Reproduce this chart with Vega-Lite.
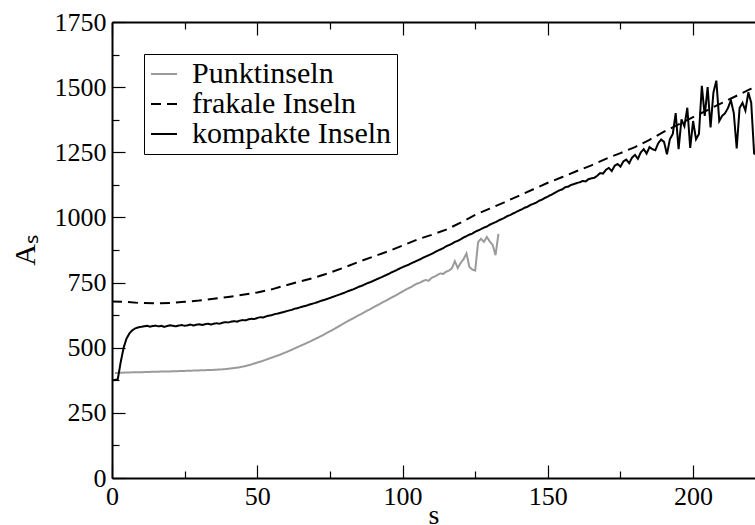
{
  "$schema": "https://vega.github.io/schema/vega-lite/v6.json",
  "width": 643,
  "height": 456,
  "autosize": {"type": "none"},
  "padding": {"left": 112, "top": 22, "right": 0, "bottom": 47},
  "background": "white",
  "config": {
    "view": {"stroke": null},
    "font": "Liberation Serif",
    "axis": {
      "grid": false,
      "domainColor": "black",
      "domainWidth": 2,
      "tickColor": "black",
      "tickWidth": 1.2,
      "labelColor": "black",
      "labelFont": "Liberation Serif",
      "labelFontSize": 26,
      "labelFlush": false,
      "labelOverlap": false,
      "titleFont": "Liberation Serif",
      "titleColor": "black",
      "titleFontWeight": "normal"
    },
    "legend": {
      "orient": "none",
      "legendX": 32,
      "legendY": 32,
      "strokeColor": "black",
      "fillColor": "white",
      "padding": 5,
      "symbolType": "stroke",
      "symbolSize": 676,
      "symbolStrokeWidth": 2,
      "labelFont": "Liberation Serif",
      "labelFontSize": 30,
      "labelColor": "black",
      "labelLimit": 400,
      "labelOffset": 13,
      "rowPadding": -3
    }
  },
  "datasets": {
    "main": [
      {"s":0,"A":677,"k":"frakale Inseln"},{"s":5,"A":676,"k":"frakale Inseln"},{"s":9,"A":672,"k":"frakale Inseln"},{"s":15,"A":670,"k":"frakale Inseln"},{"s":20,"A":672,"k":"frakale Inseln"},{"s":25,"A":676,"k":"frakale Inseln"},{"s":30,"A":681,"k":"frakale Inseln"},{"s":35,"A":688,"k":"frakale Inseln"},{"s":40,"A":695,"k":"frakale Inseln"},{"s":45,"A":703,"k":"frakale Inseln"},{"s":50,"A":712,"k":"frakale Inseln"},{"s":55,"A":724,"k":"frakale Inseln"},{"s":60,"A":740,"k":"frakale Inseln"},{"s":65,"A":755,"k":"frakale Inseln"},{"s":70,"A":770,"k":"frakale Inseln"},{"s":75,"A":788,"k":"frakale Inseln"},{"s":80,"A":808,"k":"frakale Inseln"},{"s":85,"A":830,"k":"frakale Inseln"},{"s":90,"A":850,"k":"frakale Inseln"},{"s":95,"A":870,"k":"frakale Inseln"},{"s":100,"A":892,"k":"frakale Inseln"},{"s":105,"A":915,"k":"frakale Inseln"},{"s":110,"A":933,"k":"frakale Inseln"},{"s":115,"A":953,"k":"frakale Inseln"},{"s":120,"A":980,"k":"frakale Inseln"},{"s":125,"A":1010,"k":"frakale Inseln"},{"s":130,"A":1034,"k":"frakale Inseln"},{"s":135,"A":1058,"k":"frakale Inseln"},{"s":140,"A":1083,"k":"frakale Inseln"},{"s":145,"A":1108,"k":"frakale Inseln"},{"s":150,"A":1133,"k":"frakale Inseln"},{"s":155,"A":1155,"k":"frakale Inseln"},{"s":160,"A":1178,"k":"frakale Inseln"},{"s":165,"A":1200,"k":"frakale Inseln"},{"s":170,"A":1225,"k":"frakale Inseln"},{"s":175,"A":1247,"k":"frakale Inseln"},{"s":180,"A":1270,"k":"frakale Inseln"},{"s":185,"A":1298,"k":"frakale Inseln"},{"s":190,"A":1329,"k":"frakale Inseln"},{"s":195,"A":1357,"k":"frakale Inseln"},{"s":200,"A":1385,"k":"frakale Inseln"},{"s":205,"A":1412,"k":"frakale Inseln"},{"s":210,"A":1440,"k":"frakale Inseln"},{"s":215,"A":1467,"k":"frakale Inseln"},{"s":220,"A":1494,"k":"frakale Inseln"},{"s":223,"A":1510,"k":"frakale Inseln"},

      {"s":1,"A":403,"k":"Punktinseln"},{"s":5,"A":405,"k":"Punktinseln"},{"s":10,"A":406,"k":"Punktinseln"},{"s":15,"A":408,"k":"Punktinseln"},{"s":20,"A":409,"k":"Punktinseln"},{"s":25,"A":411,"k":"Punktinseln"},{"s":30,"A":413,"k":"Punktinseln"},{"s":35,"A":415,"k":"Punktinseln"},{"s":38,"A":417,"k":"Punktinseln"},{"s":40,"A":419,"k":"Punktinseln"},{"s":42,"A":422,"k":"Punktinseln"},{"s":44,"A":425,"k":"Punktinseln"},{"s":46,"A":430,"k":"Punktinseln"},{"s":48,"A":436,"k":"Punktinseln"},{"s":50,"A":443,"k":"Punktinseln"},{"s":52,"A":450,"k":"Punktinseln"},{"s":54,"A":458,"k":"Punktinseln"},{"s":56,"A":466,"k":"Punktinseln"},{"s":58,"A":474,"k":"Punktinseln"},{"s":60,"A":483,"k":"Punktinseln"},{"s":62,"A":493,"k":"Punktinseln"},{"s":64,"A":503,"k":"Punktinseln"},{"s":66,"A":513,"k":"Punktinseln"},{"s":68,"A":523,"k":"Punktinseln"},{"s":70,"A":534,"k":"Punktinseln"},{"s":72,"A":545,"k":"Punktinseln"},{"s":74,"A":557,"k":"Punktinseln"},{"s":76,"A":569,"k":"Punktinseln"},{"s":78,"A":582,"k":"Punktinseln"},{"s":80,"A":595,"k":"Punktinseln"},{"s":82,"A":607,"k":"Punktinseln"},{"s":84,"A":619,"k":"Punktinseln"},{"s":86,"A":631,"k":"Punktinseln"},{"s":88,"A":643,"k":"Punktinseln"},{"s":90,"A":655,"k":"Punktinseln"},{"s":92,"A":667,"k":"Punktinseln"},{"s":94,"A":679,"k":"Punktinseln"},{"s":96,"A":691,"k":"Punktinseln"},{"s":98,"A":703,"k":"Punktinseln"},{"s":100,"A":716,"k":"Punktinseln"},{"s":101,"A":722,"k":"Punktinseln"},{"s":102,"A":728,"k":"Punktinseln"},{"s":103,"A":733,"k":"Punktinseln"},{"s":104,"A":740,"k":"Punktinseln"},{"s":105,"A":746,"k":"Punktinseln"},{"s":106,"A":750,"k":"Punktinseln"},{"s":107,"A":756,"k":"Punktinseln"},{"s":108,"A":760,"k":"Punktinseln"},{"s":109,"A":757,"k":"Punktinseln"},{"s":110,"A":768,"k":"Punktinseln"},{"s":111,"A":773,"k":"Punktinseln"},{"s":112,"A":779,"k":"Punktinseln"},{"s":113,"A":785,"k":"Punktinseln"},{"s":114,"A":783,"k":"Punktinseln"},{"s":115,"A":792,"k":"Punktinseln"},{"s":116,"A":796,"k":"Punktinseln"},{"s":117,"A":805,"k":"Punktinseln"},{"s":118,"A":832,"k":"Punktinseln"},{"s":119,"A":806,"k":"Punktinseln"},{"s":120,"A":825,"k":"Punktinseln"},{"s":121,"A":840,"k":"Punktinseln"},{"s":122,"A":862,"k":"Punktinseln"},{"s":123,"A":810,"k":"Punktinseln"},{"s":124,"A":800,"k":"Punktinseln"},{"s":125,"A":796,"k":"Punktinseln"},{"s":126,"A":905,"k":"Punktinseln"},{"s":127,"A":918,"k":"Punktinseln"},{"s":128,"A":906,"k":"Punktinseln"},{"s":129,"A":925,"k":"Punktinseln"},{"s":130,"A":908,"k":"Punktinseln"},{"s":131,"A":895,"k":"Punktinseln"},{"s":132,"A":855,"k":"Punktinseln"},{"s":133,"A":937,"k":"Punktinseln"},

      {"s":0,"A":375,"k":"kompakte Inseln"},{"s":1,"A":376,"k":"kompakte Inseln"},{"s":2,"A":380,"k":"kompakte Inseln"},{"s":3,"A":445,"k":"kompakte Inseln"},{"s":4,"A":500,"k":"kompakte Inseln"},{"s":5,"A":535,"k":"kompakte Inseln"},{"s":6,"A":555,"k":"kompakte Inseln"},{"s":7,"A":567,"k":"kompakte Inseln"},{"s":8,"A":574,"k":"kompakte Inseln"},{"s":9,"A":578,"k":"kompakte Inseln"},{"s":10,"A":580,"k":"kompakte Inseln"},{"s":11,"A":582,"k":"kompakte Inseln"},{"s":12,"A":584,"k":"kompakte Inseln"},{"s":13,"A":581,"k":"kompakte Inseln"},{"s":14,"A":583,"k":"kompakte Inseln"},{"s":15,"A":585,"k":"kompakte Inseln"},{"s":16,"A":582,"k":"kompakte Inseln"},{"s":17,"A":584,"k":"kompakte Inseln"},{"s":18,"A":580,"k":"kompakte Inseln"},{"s":19,"A":583,"k":"kompakte Inseln"},{"s":20,"A":586,"k":"kompakte Inseln"},{"s":21,"A":584,"k":"kompakte Inseln"},{"s":22,"A":582,"k":"kompakte Inseln"},{"s":23,"A":585,"k":"kompakte Inseln"},{"s":24,"A":587,"k":"kompakte Inseln"},{"s":25,"A":584,"k":"kompakte Inseln"},{"s":26,"A":586,"k":"kompakte Inseln"},{"s":27,"A":589,"k":"kompakte Inseln"},{"s":28,"A":585,"k":"kompakte Inseln"},{"s":29,"A":588,"k":"kompakte Inseln"},{"s":30,"A":590,"k":"kompakte Inseln"},{"s":31,"A":587,"k":"kompakte Inseln"},{"s":32,"A":590,"k":"kompakte Inseln"},{"s":33,"A":592,"k":"kompakte Inseln"},{"s":34,"A":589,"k":"kompakte Inseln"},{"s":35,"A":592,"k":"kompakte Inseln"},{"s":36,"A":594,"k":"kompakte Inseln"},{"s":37,"A":592,"k":"kompakte Inseln"},{"s":38,"A":596,"k":"kompakte Inseln"},{"s":39,"A":598,"k":"kompakte Inseln"},{"s":40,"A":597,"k":"kompakte Inseln"},{"s":41,"A":600,"k":"kompakte Inseln"},{"s":42,"A":602,"k":"kompakte Inseln"},{"s":43,"A":600,"k":"kompakte Inseln"},{"s":44,"A":604,"k":"kompakte Inseln"},{"s":45,"A":606,"k":"kompakte Inseln"},{"s":46,"A":605,"k":"kompakte Inseln"},{"s":47,"A":609,"k":"kompakte Inseln"},{"s":48,"A":611,"k":"kompakte Inseln"},{"s":49,"A":610,"k":"kompakte Inseln"},{"s":50,"A":614,"k":"kompakte Inseln"},{"s":51,"A":617,"k":"kompakte Inseln"},{"s":52,"A":616,"k":"kompakte Inseln"},{"s":53,"A":620,"k":"kompakte Inseln"},{"s":54,"A":623,"k":"kompakte Inseln"},{"s":55,"A":625,"k":"kompakte Inseln"},{"s":56,"A":629,"k":"kompakte Inseln"},{"s":57,"A":631,"k":"kompakte Inseln"},{"s":58,"A":634,"k":"kompakte Inseln"},{"s":59,"A":637,"k":"kompakte Inseln"},{"s":60,"A":640,"k":"kompakte Inseln"},{"s":61,"A":643,"k":"kompakte Inseln"},{"s":62,"A":646,"k":"kompakte Inseln"},{"s":63,"A":650,"k":"kompakte Inseln"},{"s":64,"A":652,"k":"kompakte Inseln"},{"s":65,"A":656,"k":"kompakte Inseln"},{"s":66,"A":659,"k":"kompakte Inseln"},{"s":67,"A":662,"k":"kompakte Inseln"},{"s":68,"A":666,"k":"kompakte Inseln"},{"s":69,"A":669,"k":"kompakte Inseln"},{"s":70,"A":672,"k":"kompakte Inseln"},{"s":71,"A":676,"k":"kompakte Inseln"},{"s":72,"A":680,"k":"kompakte Inseln"},{"s":73,"A":683,"k":"kompakte Inseln"},{"s":74,"A":687,"k":"kompakte Inseln"},{"s":75,"A":691,"k":"kompakte Inseln"},{"s":76,"A":695,"k":"kompakte Inseln"},{"s":77,"A":699,"k":"kompakte Inseln"},{"s":78,"A":703,"k":"kompakte Inseln"},{"s":79,"A":707,"k":"kompakte Inseln"},{"s":80,"A":711,"k":"kompakte Inseln"},{"s":81,"A":716,"k":"kompakte Inseln"},{"s":82,"A":720,"k":"kompakte Inseln"},{"s":83,"A":724,"k":"kompakte Inseln"},{"s":84,"A":729,"k":"kompakte Inseln"},{"s":85,"A":734,"k":"kompakte Inseln"},{"s":86,"A":738,"k":"kompakte Inseln"},{"s":87,"A":743,"k":"kompakte Inseln"},{"s":88,"A":748,"k":"kompakte Inseln"},{"s":89,"A":752,"k":"kompakte Inseln"},{"s":90,"A":757,"k":"kompakte Inseln"},{"s":91,"A":762,"k":"kompakte Inseln"},{"s":92,"A":767,"k":"kompakte Inseln"},{"s":93,"A":772,"k":"kompakte Inseln"},{"s":94,"A":777,"k":"kompakte Inseln"},{"s":95,"A":782,"k":"kompakte Inseln"},{"s":96,"A":788,"k":"kompakte Inseln"},{"s":97,"A":793,"k":"kompakte Inseln"},{"s":98,"A":798,"k":"kompakte Inseln"},{"s":99,"A":804,"k":"kompakte Inseln"},{"s":100,"A":809,"k":"kompakte Inseln"},{"s":101,"A":814,"k":"kompakte Inseln"},{"s":102,"A":818,"k":"kompakte Inseln"},{"s":103,"A":824,"k":"kompakte Inseln"},{"s":104,"A":829,"k":"kompakte Inseln"},{"s":105,"A":834,"k":"kompakte Inseln"},{"s":106,"A":839,"k":"kompakte Inseln"},{"s":107,"A":845,"k":"kompakte Inseln"},{"s":108,"A":850,"k":"kompakte Inseln"},{"s":109,"A":855,"k":"kompakte Inseln"},{"s":110,"A":860,"k":"kompakte Inseln"},{"s":111,"A":866,"k":"kompakte Inseln"},{"s":112,"A":872,"k":"kompakte Inseln"},{"s":113,"A":877,"k":"kompakte Inseln"},{"s":114,"A":882,"k":"kompakte Inseln"},{"s":115,"A":889,"k":"kompakte Inseln"},{"s":116,"A":894,"k":"kompakte Inseln"},{"s":117,"A":899,"k":"kompakte Inseln"},{"s":118,"A":906,"k":"kompakte Inseln"},{"s":119,"A":910,"k":"kompakte Inseln"},{"s":120,"A":916,"k":"kompakte Inseln"},{"s":121,"A":923,"k":"kompakte Inseln"},{"s":122,"A":928,"k":"kompakte Inseln"},{"s":123,"A":934,"k":"kompakte Inseln"},{"s":124,"A":938,"k":"kompakte Inseln"},{"s":125,"A":945,"k":"kompakte Inseln"},{"s":126,"A":950,"k":"kompakte Inseln"},{"s":127,"A":955,"k":"kompakte Inseln"},{"s":128,"A":961,"k":"kompakte Inseln"},{"s":129,"A":965,"k":"kompakte Inseln"},{"s":130,"A":972,"k":"kompakte Inseln"},{"s":131,"A":977,"k":"kompakte Inseln"},{"s":132,"A":982,"k":"kompakte Inseln"},{"s":133,"A":988,"k":"kompakte Inseln"},{"s":134,"A":993,"k":"kompakte Inseln"},{"s":135,"A":998,"k":"kompakte Inseln"},{"s":136,"A":1005,"k":"kompakte Inseln"},{"s":137,"A":1009,"k":"kompakte Inseln"},{"s":138,"A":1015,"k":"kompakte Inseln"},{"s":139,"A":1020,"k":"kompakte Inseln"},{"s":140,"A":1026,"k":"kompakte Inseln"},{"s":141,"A":1031,"k":"kompakte Inseln"},{"s":142,"A":1037,"k":"kompakte Inseln"},{"s":143,"A":1041,"k":"kompakte Inseln"},{"s":144,"A":1048,"k":"kompakte Inseln"},{"s":145,"A":1052,"k":"kompakte Inseln"},{"s":146,"A":1057,"k":"kompakte Inseln"},{"s":147,"A":1064,"k":"kompakte Inseln"},{"s":148,"A":1068,"k":"kompakte Inseln"},{"s":149,"A":1075,"k":"kompakte Inseln"},{"s":150,"A":1080,"k":"kompakte Inseln"},{"s":151,"A":1086,"k":"kompakte Inseln"},{"s":152,"A":1092,"k":"kompakte Inseln"},{"s":153,"A":1098,"k":"kompakte Inseln"},{"s":154,"A":1104,"k":"kompakte Inseln"},{"s":155,"A":1108,"k":"kompakte Inseln"},{"s":156,"A":1116,"k":"kompakte Inseln"},{"s":157,"A":1118,"k":"kompakte Inseln"},{"s":158,"A":1125,"k":"kompakte Inseln"},{"s":159,"A":1128,"k":"kompakte Inseln"},{"s":160,"A":1132,"k":"kompakte Inseln"},{"s":161,"A":1135,"k":"kompakte Inseln"},{"s":162,"A":1140,"k":"kompakte Inseln"},{"s":163,"A":1138,"k":"kompakte Inseln"},{"s":164,"A":1147,"k":"kompakte Inseln"},{"s":165,"A":1150,"k":"kompakte Inseln"},{"s":166,"A":1152,"k":"kompakte Inseln"},{"s":167,"A":1160,"k":"kompakte Inseln"},{"s":168,"A":1170,"k":"kompakte Inseln"},{"s":169,"A":1168,"k":"kompakte Inseln"},{"s":170,"A":1183,"k":"kompakte Inseln"},{"s":171,"A":1190,"k":"kompakte Inseln"},{"s":172,"A":1178,"k":"kompakte Inseln"},{"s":173,"A":1198,"k":"kompakte Inseln"},{"s":174,"A":1205,"k":"kompakte Inseln"},{"s":175,"A":1195,"k":"kompakte Inseln"},{"s":176,"A":1215,"k":"kompakte Inseln"},{"s":177,"A":1222,"k":"kompakte Inseln"},{"s":178,"A":1208,"k":"kompakte Inseln"},{"s":179,"A":1230,"k":"kompakte Inseln"},{"s":180,"A":1240,"k":"kompakte Inseln"},{"s":181,"A":1225,"k":"kompakte Inseln"},{"s":182,"A":1250,"k":"kompakte Inseln"},{"s":183,"A":1262,"k":"kompakte Inseln"},{"s":184,"A":1245,"k":"kompakte Inseln"},{"s":185,"A":1270,"k":"kompakte Inseln"},{"s":186,"A":1262,"k":"kompakte Inseln"},{"s":187,"A":1258,"k":"kompakte Inseln"},{"s":188,"A":1285,"k":"kompakte Inseln"},{"s":189,"A":1299,"k":"kompakte Inseln"},{"s":190,"A":1290,"k":"kompakte Inseln"},{"s":191,"A":1242,"k":"kompakte Inseln"},{"s":192,"A":1300,"k":"kompakte Inseln"},{"s":193,"A":1320,"k":"kompakte Inseln"},{"s":194,"A":1400,"k":"kompakte Inseln"},{"s":195,"A":1262,"k":"kompakte Inseln"},{"s":196,"A":1376,"k":"kompakte Inseln"},{"s":197,"A":1350,"k":"kompakte Inseln"},{"s":198,"A":1421,"k":"kompakte Inseln"},{"s":199,"A":1267,"k":"kompakte Inseln"},{"s":200,"A":1370,"k":"kompakte Inseln"},{"s":201,"A":1300,"k":"kompakte Inseln"},{"s":202,"A":1320,"k":"kompakte Inseln"},{"s":203,"A":1505,"k":"kompakte Inseln"},{"s":204,"A":1390,"k":"kompakte Inseln"},{"s":205,"A":1500,"k":"kompakte Inseln"},{"s":206,"A":1345,"k":"kompakte Inseln"},{"s":207,"A":1480,"k":"kompakte Inseln"},{"s":208,"A":1525,"k":"kompakte Inseln"},{"s":209,"A":1370,"k":"kompakte Inseln"},{"s":210,"A":1390,"k":"kompakte Inseln"},{"s":211,"A":1400,"k":"kompakte Inseln"},{"s":212,"A":1420,"k":"kompakte Inseln"},{"s":213,"A":1450,"k":"kompakte Inseln"},{"s":214,"A":1400,"k":"kompakte Inseln"},{"s":215,"A":1265,"k":"kompakte Inseln"},{"s":216,"A":1420,"k":"kompakte Inseln"},{"s":217,"A":1440,"k":"kompakte Inseln"},{"s":218,"A":1410,"k":"kompakte Inseln"},{"s":219,"A":1480,"k":"kompakte Inseln"},{"s":220,"A":1440,"k":"kompakte Inseln"},{"s":221,"A":1245,"k":"kompakte Inseln"},{"s":222,"A":1240,"k":"kompakte Inseln"}
    ]
  },
  "data": {"name": "main"},
  "layer": [
    {
      "mark": {"type": "line", "clip": true, "strokeWidth": 2},
      "encoding": {
        "x": {
          "field": "s", "type": "quantitative",
          "scale": {"domain": [0, 221.3], "nice": false, "zero": false},
          "axis": {
            "orient": "bottom",
            "values": [0, 50, 100, 150, 200],
            "format": "d",
            "tickSize": -13,
            "labelPadding": 18,
            "title": "s",
            "titleFontSize": 28,
            "titlePadding": -8
          }
        },
        "y": {
          "field": "A", "type": "quantitative",
          "scale": {"domain": [0, 1750], "nice": false},
          "axis": {
            "orient": "left",
            "values": [0, 250, 500, 750, 1000, 1250, 1500, 1750],
            "format": "d",
            "tickSize": -13,
            "labelPadding": 19,
            "title": "Aₛ",
            "titleFontSize": 30,
            "titlePadding": 14
          }
        },
        "color": {
          "field": "k", "type": "nominal",
          "scale": {"domain": ["Punktinseln", "frakale Inseln", "kompakte Inseln"], "range": ["#9a9a9a", "#000000", "#000000"]},
          "legend": {"title": null}
        },
        "strokeDash": {
          "field": "k", "type": "nominal",
          "scale": {"domain": ["Punktinseln", "frakale Inseln", "kompakte Inseln"], "range": [[1, 0], [10, 6], [1, 0]]},
          "legend": {"title": null}
        },
        "detail": {"field": "k"}
      }
    },
    {
      "mark": {"type": "line", "opacity": 0},
      "encoding": {
        "x": {
          "field": "s", "type": "quantitative",
          "axis": {"orient": "bottom", "values": [25, 75, 125, 175], "labels": false, "title": null, "domain": false, "tickSize": -7}
        },
        "y": {
          "field": "A", "type": "quantitative",
          "axis": {"orient": "left", "values": [125, 375, 625, 875, 1125, 1375, 1625], "labels": false, "title": null, "domain": false, "tickSize": -7}
        },
        "detail": {"field": "k"}
      }
    },
    {
      "mark": {"type": "line", "opacity": 0},
      "encoding": {
        "x": {
          "field": "s", "type": "quantitative",
          "axis": {"orient": "top", "values": [0, 50, 100, 150, 200], "labels": false, "title": null, "tickSize": -13}
        },
        "y": {"field": "A", "type": "quantitative", "axis": null},
        "detail": {"field": "k"}
      }
    },
    {
      "mark": {"type": "line", "opacity": 0},
      "encoding": {
        "x": {
          "field": "s", "type": "quantitative",
          "axis": {"orient": "top", "values": [25, 75, 125, 175], "labels": false, "title": null, "domain": false, "tickSize": -7}
        },
        "y": {"field": "A", "type": "quantitative", "axis": null},
        "detail": {"field": "k"}
      }
    }
  ],
  "resolve": {"axis": {"x": "independent", "y": "independent"}}
}
